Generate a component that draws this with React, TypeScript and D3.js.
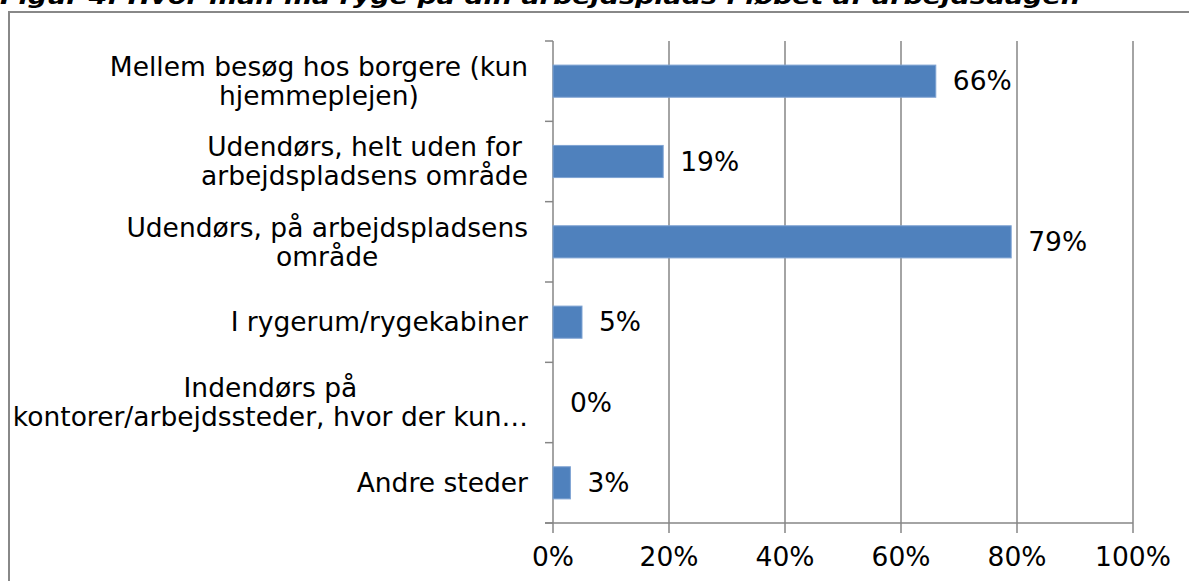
import { useMemo } from 'react'
import * as d3 from 'd3'

const title = 'Figur 4: Hvor man må ryge på din arbejdsplads i løbet af arbejdsdagen'

const categories = [
  ['Mellem besøg hos borgere (kun', 'hjemmeplejen)'],
  ['Udendørs, helt uden for', 'arbejdspladsens område'],
  ['Udendørs, på arbejdspladsens', 'område'],
  ['I rygerum/rygekabiner'],
  ['Indendørs på', 'kontorer/arbejdssteder, hvor der kun…'],
  ['Andre steder'],
]
const values = [0.66, 0.19, 0.79, 0.05, 0.0, 0.03]
const ticks = [0, 0.2, 0.4, 0.6, 0.8, 1.0]

const W = 1189
const H = 581
const FONT = 'DejaVu Sans, Verdana, sans-serif'
const FS = 26.5

const measure = (s: string) => {
  const ctx = document.createElement('canvas').getContext('2d')
  if (!ctx) return s.length * FS * 0.6
  ctx.font = `${FS}px DejaVu Sans`
  return ctx.measureText(s).width
}

const App = () => {
  const x = d3.scaleLinear().domain([0, 1]).range([553, 1133])
  const y = d3
    .scaleBand()
    .domain(categories.map((_, i) => String(i)))
    .range([41, 523])
    .paddingInner(0.6)
    .paddingOuter(0.3)

  const yTicks = d3.range(categories.length + 1).map((i) => 41 + (i * (523 - 41)) / categories.length)

  const labelWidths = useMemo(() => categories.map((lines) => d3.max(lines, measure) || 0), [])

  return (
    <svg width={W} height={H} style={{ position: 'absolute', left: 0, top: 0, background: '#fff' }}>
      <text x={0} y={4} fontFamily={FONT} fontSize={21} fontWeight='bold' fontStyle='italic' textLength={1080} lengthAdjust='spacingAndGlyphs' fill='#000'>
        {title}
      </text>
      <rect x={9} y={12} width={W} height={H} fill='none' stroke='#888' strokeWidth={2} />

      {ticks.map((t) => (
        <g key={t}>
          <line x1={x(t)} x2={x(t)} y1={41} y2={533} stroke='#868686' strokeWidth={1.5} />
          <text x={x(t)} y={566} textAnchor='middle' fontFamily={FONT} fontSize={FS} fill='#000'>
            {d3.format('.0%')(t)}
          </text>
        </g>
      ))}
      <line x1={545} x2={1133} y1={523} y2={523} stroke='#868686' strokeWidth={1.5} />
      {yTicks.map((t, i) => (
        <line key={i} x1={545} x2={553} y1={t} y2={t} stroke='#868686' strokeWidth={1.5} />
      ))}

      {categories.map((lines, i) => {
        const cy = (y(String(i)) || 0) + y.bandwidth() / 2
        const cx = 528 - labelWidths[i] / 2
        const lh = 29
        return (
          <text key={i} textAnchor='middle' fontFamily={FONT} fontSize={FS} fill='#000'>
            {lines.map((l, j) => (
              <tspan key={j} x={cx} y={cy + (j - (lines.length - 1) / 2) * lh} dy='0.35em'>
                {l}
              </tspan>
            ))}
          </text>
        )
      })}

      {values.map((v, i) => {
        const by = y(String(i)) || 0
        return (
          <g key={i}>
            {v > 0 && (
              <rect x={x(0)} y={by} width={x(v) - x(0)} height={y.bandwidth()} fill='#4f81bd' stroke='#7fa3d3' strokeWidth={1} />
            )}
            <text x={x(v) + 17} y={by + y.bandwidth() / 2} dy='0.35em' fontFamily={FONT} fontSize={FS} fill='#000'>
              {d3.format('.0%')(v)}
            </text>
          </g>
        )
      })}
    </svg>
  )
}

export default App
